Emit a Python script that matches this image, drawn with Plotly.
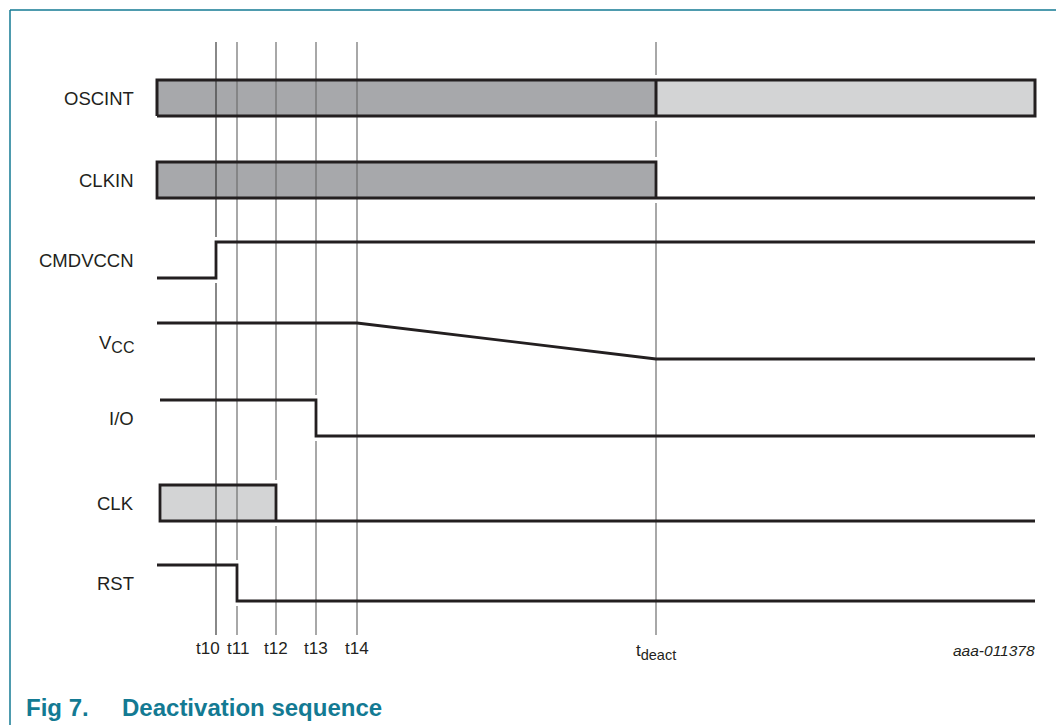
import plotly.graph_objects as go

# ---------------- data ----------------
signal_names = ["OSCINT", "CLKIN", "CMDVCCN", "V<sub><span style='font-size:16px'>CC</span></sub>",
                "I/O", "CLK", "RST"]

time_labels = ["t10", "t11", "t12", "t13", "t14",
               "t<sub><span style='font-size:14.5px'>deact</span></sub>"]
time_marks = [59, 80, 119, 159, 200, 499]
t_end = 878

# bus-type signals: segment boundaries and state of each segment
oscint_t = [0, 499, 878]
oscint_state = ["active", "idle"]
clkin_t = [0, 499]
clkin_state = ["active"]
clk_t = [3, 119]
clk_state = ["idle"]

# level-type signals: times and levels (1 = high, 0 = low)
cmdvccn_t = [0, 59, 59, 878]
cmdvccn_lv = [0, 0, 1, 1]
vcc_t = [0, 200, 499, 878]
vcc_lv = [1, 1, 0, 0]
io_t = [3, 159, 159, 878]
io_lv = [1, 1, 0, 0]
rst_t = [0, 80, 80, 878]
rst_lv = [1, 1, 0, 0]

figure_id = "aaa-011378"
fig_num = "Fig 7."
fig_title = "Deactivation sequence"

# ---------------- layout constants ----------------
LANE_TOP = [80, 162, 242, 323, 400, 485, 565]
LANE_H = 36
LINE_COL = "#231f20"
FILL = {"active": "#a7a8ab", "idle": "#d3d4d5"}
TEAL = "#137a93"
FONT = "Liberation Sans, Arial, sans-serif"
VL_TOP, VL_BOT = 42, 635
GAP = 5
LABEL_XSHIFT = [-8, 1, 0, 0, 0, 0]
PAGE_OFF = 8  # body margin of the page


def ylev(lane, lv):
    return LANE_TOP[lane] + (1 - lv) * LANE_H


fig = go.Figure()

# bus fills
def bus_fill(lane, ts, states):
    for a, b, s in zip(ts[:-1], ts[1:], states):
        hi, lo = ylev(lane, 1), ylev(lane, 0)
        fig.add_trace(go.Scatter(x=[a, a, b, b, a], y=[lo, hi, hi, lo, lo], mode="lines",
                                 fill="toself", fillcolor=FILL[s], line=dict(width=0),
                                 hoverinfo="skip"))

bus_fill(0, oscint_t, oscint_state)
bus_fill(1, clkin_t, clkin_state)
bus_fill(5, clk_t, clk_state)

# transitions -> gaps on the time marker lines
transitions = []  # (time, lane)
for lane, ts in [(2, cmdvccn_t), (3, vcc_t), (4, io_t), (6, rst_t)]:
    for i in range(len(ts) - 1):
        if ts[i] == ts[i + 1]:
            transitions.append((ts[i], lane))
for lane, ts in [(0, oscint_t), (1, clkin_t), (5, clk_t)]:
    for t in ts[1:]:
        if t != t_end:
            transitions.append((t, lane))

for k, tm in enumerate(time_marks):
    gaps = sorted([(ylev(l, 1) - GAP, ylev(l, 0) + GAP) for (t, l) in transitions if t == tm])
    xs, ys = [], []
    cur = VL_TOP
    for g0, g1 in gaps:
        xs += [tm, tm, None]
        ys += [cur, g0, None]
        cur = g1
    xs += [tm, tm]
    ys += [cur, VL_BOT]
    fig.add_trace(go.Scatter(x=xs, y=ys, mode="lines",
                             line=dict(color="#3a3a3a" if k == 0 else "#6e6e6e", width=1.2),
                             hoverinfo="skip"))

# bus outlines
hi, lo = ylev(0, 1), ylev(0, 0)
fig.add_trace(go.Scatter(x=[oscint_t[0], oscint_t[0], oscint_t[-1], oscint_t[-1], oscint_t[0]],
                         y=[lo, hi, hi, lo, lo], mode="lines",
                         line=dict(color=LINE_COL, width=3), hoverinfo="skip"))
for t in oscint_t[1:-1]:
    fig.add_trace(go.Scatter(x=[t, t], y=[hi, lo], mode="lines",
                             line=dict(color=LINE_COL, width=3), hoverinfo="skip"))

for lane, ts in [(1, clkin_t), (5, clk_t)]:
    hi, lo = ylev(lane, 1), ylev(lane, 0)
    fig.add_trace(go.Scatter(x=[t_end, ts[0], ts[0], ts[-1], ts[-1]],
                             y=[lo, lo, hi, hi, lo], mode="lines",
                             line=dict(color=LINE_COL, width=2.8), hoverinfo="skip"))

# level signals
for lane, ts, lv in [(2, cmdvccn_t, cmdvccn_lv), (3, vcc_t, vcc_lv),
                     (4, io_t, io_lv), (6, rst_t, rst_lv)]:
    fig.add_trace(go.Scatter(x=ts, y=[ylev(lane, v) for v in lv], mode="lines",
                             line=dict(color=LINE_COL, width=2.8), hoverinfo="skip"))

ann = []
for lane, name in enumerate(signal_names):
    ann.append(dict(x=-21, y=LANE_TOP[lane] + LANE_H / 2 + (3 if "sub" in name else 0),
                    text=name, showarrow=False, xanchor="right", yanchor="middle",
                    font=dict(family=FONT, size=18.5, color=LINE_COL)))
for tm, lab, xs in zip(time_marks, time_labels, LABEL_XSHIFT):
    ann.append(dict(x=tm, y=648 + (4 if "sub" in lab else 0), text=lab, showarrow=False,
                    xanchor="center", yanchor="middle", xshift=xs,
                    font=dict(family=FONT, size=17, color=LINE_COL)))
ann.append(dict(x=t_end + 2, y=650, text="<i>" + figure_id + "</i>", showarrow=False,
                xanchor="right", yanchor="middle",
                font=dict(family=FONT, size=15.5, color=LINE_COL)))
ann.append(dict(x=-133, y=707, text="<b>" + fig_num + "</b>", showarrow=False,
                xanchor="left", yanchor="middle", font=dict(family=FONT, size=24, color=TEAL)))
ann.append(dict(x=-37, y=707, text="<b>" + fig_title + "</b>", showarrow=False,
                xanchor="left", yanchor="middle", font=dict(family=FONT, size=24, color=TEAL)))

shapes = [
    dict(type="line", x0=-147, y0=10, x1=915, y1=10, line=dict(color=TEAL, width=1.5)),
    dict(type="line", x0=-147, y0=10, x1=-147, y1=730, line=dict(color=TEAL, width=1.5)),
]

W, H = 1064 - PAGE_OFF, 725 - PAGE_OFF
x_left = -157 + PAGE_OFF
y_top = PAGE_OFF
fig.update_layout(
    width=W, height=H, margin=dict(l=0, r=0, t=0, b=0),
    paper_bgcolor="white", plot_bgcolor="white", showlegend=False, hovermode=False,
    xaxis=dict(range=[x_left, x_left + W], visible=False, fixedrange=True),
    yaxis=dict(range=[y_top + H, y_top], visible=False, fixedrange=True),
    annotations=ann, shapes=shapes,
)

fig.write_html("out.html", config={"displayModeBar": False})
